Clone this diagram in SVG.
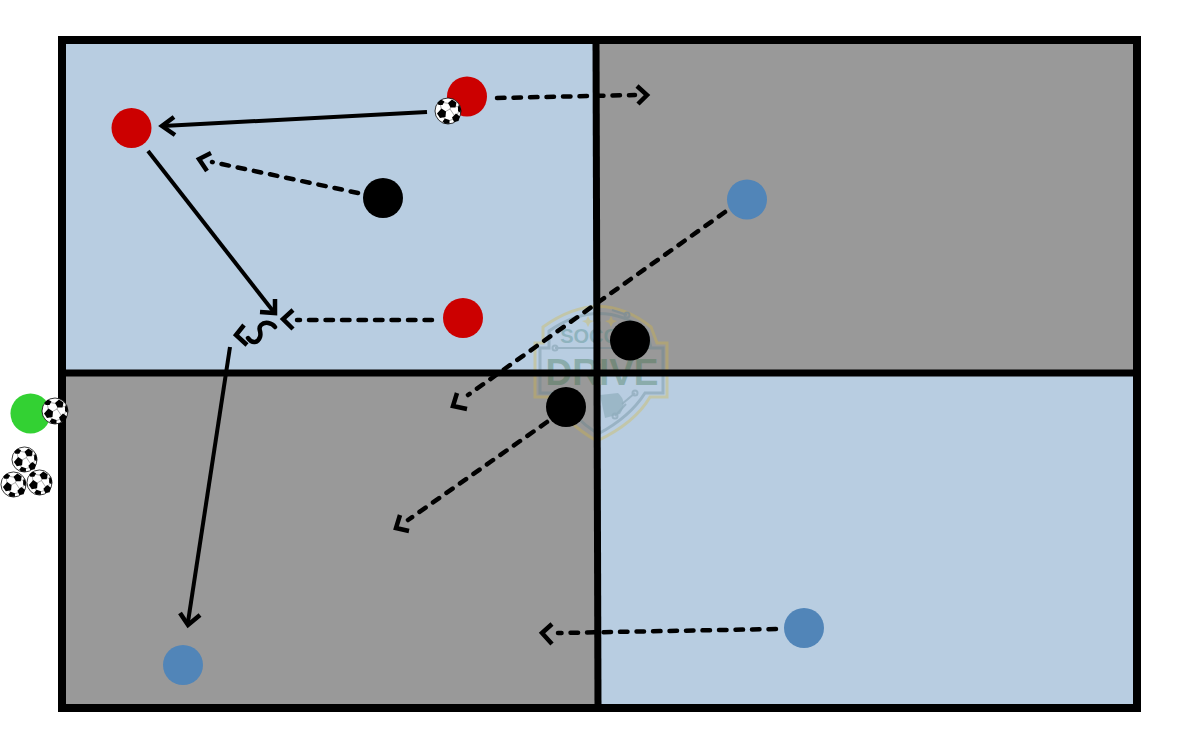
<svg xmlns="http://www.w3.org/2000/svg" width="1200" height="750" viewBox="0 0 1200 750">
<style>
.line{fill:none;stroke:#000;stroke-width:4}
.dash{stroke-width:4.500;stroke-dasharray:7.500 9;stroke-linecap:round}
.head{fill:none;stroke:#000;stroke-width:4.500}
.red{fill:#cc0000}.blue{fill:#5185b8}.blk{fill:#000}.grn{fill:#33d133}
.lg{fill:none;stroke-width:3}
.lt{font-family:"Liberation Sans",Arial,sans-serif;font-weight:700;text-anchor:middle}
</style>
<defs>
<symbol id="ball" viewBox="-14 -14 28 28" overflow="visible">
<circle r="13" fill="#fff" stroke="#000" stroke-width="0.8"/>
<path d="M2 -2L4 -7M2 -2L-6 2.500M2 -2L8 7M-6 2.500L-8 -9M-6 2.500L-2 11M8 7L-2 11M4 -7L-8 -9M4 -7L12 -3M8 7L12 -3" stroke="#555" stroke-width="0.500" fill="none"/>
<g fill="#000">
<polygon points="4,-11.500 8.500,-8.500 7.500,-3.500 2.500,-3.500 0,-8"/>
<polygon points="-6.500,-2.500 -2,0.500 -2.500,6 -8,7 -11,2.500"/>
<polygon points="8,2.500 12,5.500 10.500,10 6,11 4,6.500"/>
<polygon points="-3,7.500 1.500,9 1.500,12.800 -3,12.800 -5.500,10.500"/>
<polygon points="-7,-11.500 -3.500,-9.500 -5.500,-6 -9.500,-6 -10.500,-8.500"/>
<polygon points="11,-6.500 13,-2 12.500,2 10,0 10,-4"/>
</g>
</symbol>
</defs>
<rect width="1200" height="750" fill="#fff"/>
<g id="field">
<rect x="62" y="40" width="535" height="333" fill="#b8cde1"/>
<rect x="597" y="40" width="540" height="333" fill="#999"/>
<rect x="62" y="373" width="535" height="335" fill="#999"/>
<rect x="597" y="373" width="540" height="335" fill="#b8cde1"/>
</g>
<g id="logo" opacity="0.33">
<path class="lg" stroke="#d9b93a" d="M543 327Q600 286 651 327L657 343L667 343L667 397L650 397Q635 423 597 441Q565 423 552 397L535 397L535 343L543 343Z"/>
<path class="lg" stroke="#5c7f8c" d="M549 331Q600 296 647 331L651 348L663 348L663 393L645 393Q630 417 598 434Q572 417 557 393L540 393L540 348L549 348Z"/>
<path d="M555 348H650M627 315L612 310M635 393L622 404M615 416L626 404" stroke="#5c7f8c" stroke-width="2" fill="none"/>
<g fill="none" stroke="#5c7f8c" stroke-width="2"><circle cx="555" cy="348" r="2.500"/><circle cx="627" cy="315" r="2.500"/><circle cx="635" cy="393" r="2.500"/><circle cx="615" cy="416" r="2.500"/></g>
<text class="lt" x="603" y="343" font-size="20" fill="#3f7f7a">SOCCER</text>
<text class="lt" x="602" y="385" font-size="37" fill="#2f6b3f">DRIVE</text>
<polygon points="588,316 590,320 594,321 590,323 588,327 586,323 582,321 586,320" fill="#d9b93a"/>
<polygon points="611,316 613,320 617,321 613,323 611,327 609,323 605,321 609,320" fill="#d9b93a"/>
<path d="M600 395L618 393Q628 402 620 414L605 418Z" fill="#3f6f75" opacity="0.7"/>
</g>
<g id="lines" fill="none" stroke="#000">
<rect x="62" y="40" width="1075" height="668" stroke-width="8"/>
<path d="M596 40L598 708" stroke-width="7"/>
<path d="M62 373H1137" stroke-width="7"/>
</g>
<g id="connectors">
<path class="line" d="M427 112L163 126"/>
<path class="head" d="M174 117L162 126L175 135"/>
<path class="line" d="M148 151L273 311"/>
<path class="head" d="M260 312L275 313L275 299"/>
<path class="line" d="M230 347L188 622"/>
<path class="head" d="M180 613L188 625L200 615"/>
<path class="line dash" d="M497 98L635 95"/>
<path class="head" d="M637 86L647 95L638 104"/>
<path class="line dash" d="M358 193L212 162"/>
<path class="head" d="M211 153L199 159L207 171"/>
<path class="line dash" d="M432 320L297 320"/>
<path class="head" d="M293 310L283 319L293 329"/>
<path class="line dash" d="M725 212L468 395"/>
<path class="head" d="M457 393L453 406L467 409"/>
<path class="line dash" d="M547 422L408 520"/>
<path class="head" d="M400 515L396 528L409 531"/>
<path class="line dash" d="M776 629L558 633"/>
<path class="head" d="M552 624L542 633L552 644"/>
<path class="head" d="M244 325L236 335L247 345"/>
<path class="head" stroke-linecap="round" d="M248 338C252 344 258 343 260 337C262 331 257 329 261 325C265 321 272 323 275 327"/>
</g>
<g id="node-red-1"><circle class="red" cx="131.500" cy="128" r="20"/></g>
<g id="node-red-2"><circle class="red" cx="467" cy="96.500" r="20"/><use href="#ball" x="434" y="97" width="28" height="28"/></g>
<g id="node-red-3"><circle class="red" cx="463" cy="318" r="20"/></g>
<g id="node-black-1"><circle class="blk" cx="383" cy="198" r="20"/></g>
<g id="node-black-2"><circle class="blk" cx="630" cy="340.500" r="20"/></g>
<g id="node-black-3"><circle class="blk" cx="566" cy="407" r="20"/></g>
<g id="node-blue-1"><circle class="blue" cx="747" cy="199.500" r="20"/></g>
<g id="node-blue-2"><circle class="blue" cx="804" cy="628" r="20"/></g>
<g id="node-blue-3"><circle class="blue" cx="183" cy="665" r="20"/></g>
<g id="node-green"><circle class="grn" cx="30.500" cy="413.500" r="20"/><use href="#ball" x="41" y="397" width="28" height="28"/></g>
<g id="balls">
<use href="#ball" x="11" y="446" width="27" height="27"/>
<use href="#ball" x="0" y="471" width="27" height="27"/>
<use href="#ball" x="26" y="469" width="27" height="27"/>
</g>
</svg>
